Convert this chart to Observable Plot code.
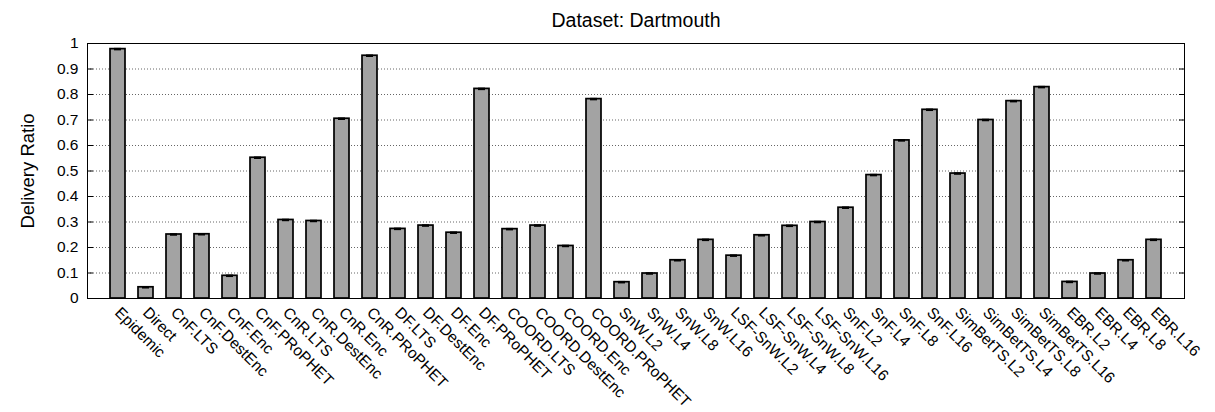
<!DOCTYPE html>
<html>
<head>
<meta charset="utf-8">
<script src="https://cdn.jsdelivr.net/npm/d3@7"></script>
<script src="https://cdn.jsdelivr.net/npm/@observablehq/plot@0.6"></script>
<style>
  html, body { margin: 0; padding: 0; background: #fff; }
  svg { font-family: "Liberation Sans", Arial, Helvetica, sans-serif; }
</style>
</head>
<body>
<div id="chart"></div>
<script>
const categories = [
  "Epidemic", "Direct",
  "CnF.LTS", "CnF.DestEnc", "CnF.Enc", "CnF.PRoPHET",
  "CnR.LTS", "CnR.DestEnc", "CnR.Enc", "CnR.PRoPHET",
  "DF.LTS", "DF.DestEnc", "DF.Enc", "DF.PRoPHET",
  "COORD.LTS", "COORD.DestEnc", "COORD.Enc", "COORD.PRoPHET",
  "SnW.L2", "SnW.L4", "SnW.L8", "SnW.L16",
  "LSF-SnW.L2", "LSF-SnW.L4", "LSF-SnW.L8", "LSF-SnW.L16",
  "SnF.L2", "SnF.L4", "SnF.L8", "SnF.L16",
  "SimBetTS.L2", "SimBetTS.L4", "SimBetTS.L8", "SimBetTS.L16",
  "EBR.L2", "EBR.L4", "EBR.L8", "EBR.L16"
];
const deliveryRatio = [
  0.978, 0.044,
  0.251, 0.252, 0.089, 0.552,
  0.308, 0.304, 0.705, 0.952,
  0.273, 0.286, 0.258, 0.822,
  0.272, 0.286, 0.206, 0.782,
  0.064, 0.098, 0.150, 0.230,
  0.168, 0.248, 0.285, 0.300,
  0.356, 0.484, 0.620, 0.740,
  0.490, 0.700, 0.774, 0.829,
  0.065, 0.098, 0.150, 0.230
];
const yTicks = [0, 0.1, 0.2, 0.3, 0.4, 0.5, 0.6, 0.7, 0.8, 0.9, 1];
const yTickLabels = ["0", "0.1", "0.2", "0.3", "0.4", "0.5", "0.6", "0.7", "0.8", "0.9", "1"];
const gridValues = [0.1, 0.2, 0.3, 0.4, 0.5, 0.6, 0.7, 0.8, 0.9];
const titleText = "Dataset: Dartmouth";
const yLabel = "Delivery Ratio";

const data = categories.map((name, i) => ({name, value: deliveryRatio[i]}));

const chart = Plot.plot({
  width: 1215,
  height: 412,
  marginTop: 43,
  marginBottom: 114,
  marginLeft: 87,
  marginRight: 31,
  style: {fontFamily: '"Liberation Sans", Arial, Helvetica, sans-serif', color: "#000", background: "#fff"},
  x: {type: "band", domain: categories, paddingInner: 0.47, paddingOuter: 0.735, axis: null},
  y: {domain: [0, 1], axis: null},
  marks: [
    Plot.ruleY(gridValues, {stroke: "#000", strokeOpacity: 0.6, strokeDasharray: "1,2", strokeWidth: 1}),
    Plot.axisY({anchor: "left", ticks: yTicks, tickSize: -6, tickPadding: 15, tickFormat: (d, i) => yTickLabels[i], fontSize: 15.5, label: null}),
    Plot.axisY({anchor: "right", ticks: yTicks, tickSize: -6, tickFormat: () => "", label: null}),
    Plot.barY(data, {x: "name", y: "value", fill: "#a3a3a3", stroke: "#000", strokeWidth: 1.7}),
    Plot.tickY(data, {x: "name", y: "value", stroke: "#000", strokeWidth: 2.5, insetLeft: 4, insetRight: 4}),
    Plot.frame({stroke: "#000", strokeWidth: 1}),
    Plot.text(categories, {x: d => d, frameAnchor: "bottom", text: d => d, rotate: 45, textAnchor: "start", lineAnchor: "bottom", dx: -4, dy: 15, fontSize: 15.5}),
    Plot.text([titleText], {frameAnchor: "top", text: d => d, lineAnchor: "bottom", dy: -17, fontSize: 19.5}),
    Plot.text([yLabel], {frameAnchor: "left", text: d => d, rotate: -90, lineAnchor: "bottom", textAnchor: "middle", dx: -53.5, fontSize: 18.5})
  ]
});
document.getElementById("chart").appendChild(chart);
</script>
</body>
</html>
